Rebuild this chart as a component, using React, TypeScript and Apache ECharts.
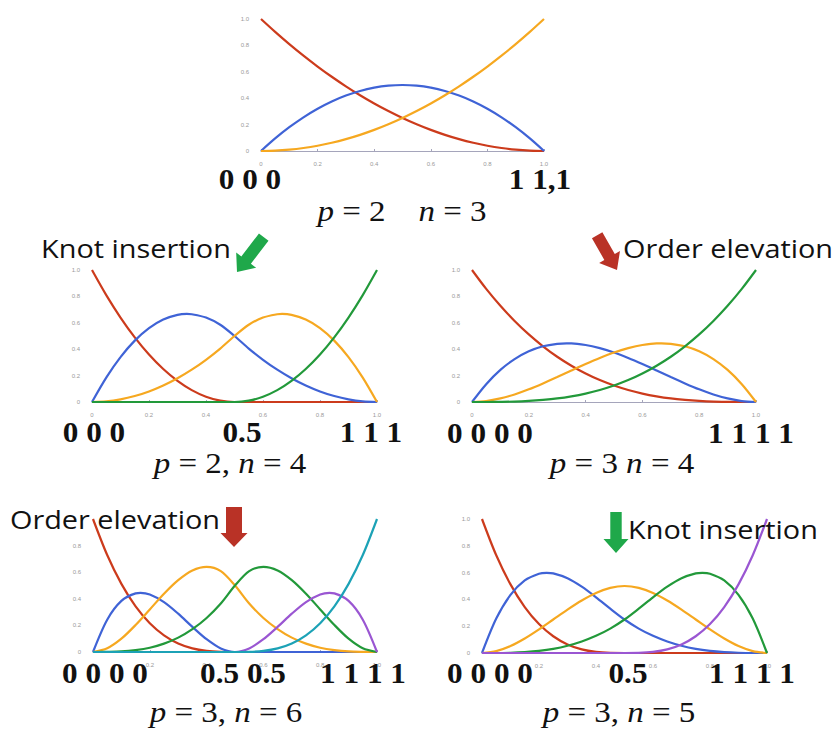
import React, { useEffect, useRef } from 'react';
import * as echarts from 'echarts';

// sample positions (parameter t)
const T = [0, 0.05, 0.1, 0.15, 0.2, 0.25, 0.3, 0.35, 0.4, 0.45, 0.5, 0.55, 0.6, 0.65, 0.7, 0.75, 0.8, 0.85, 0.9, 0.95, 1];

// Panel 1: p = 2, n = 3
const c1Red = [1, 0.9025, 0.81, 0.7225, 0.64, 0.5625, 0.49, 0.4225, 0.36, 0.3025, 0.25, 0.2025, 0.16, 0.1225, 0.09, 0.0625, 0.04, 0.0225, 0.01, 0.0025, 0];
const c1Blue = [0, 0.095, 0.18, 0.255, 0.32, 0.375, 0.42, 0.455, 0.48, 0.495, 0.5, 0.495, 0.48, 0.455, 0.42, 0.375, 0.32, 0.255, 0.18, 0.095, 0];
const c1Orange = [0, 0.0025, 0.01, 0.0225, 0.04, 0.0625, 0.09, 0.1225, 0.16, 0.2025, 0.25, 0.3025, 0.36, 0.4225, 0.49, 0.5625, 0.64, 0.7225, 0.81, 0.9025, 1];

// Panel 2: p = 2, n = 4
const c2Red = [1, 0.81, 0.64, 0.49, 0.36, 0.25, 0.16, 0.09, 0.04, 0.01, 0, 0, 0, 0, 0, 0, 0, 0, 0, 0, 0];
const c2Blue = [0, 0.185, 0.34, 0.465, 0.56, 0.625, 0.66, 0.665, 0.64, 0.585, 0.5, 0.405, 0.32, 0.245, 0.18, 0.125, 0.08, 0.045, 0.02, 0.005, 0];
const c2Orange = [0, 0.005, 0.02, 0.045, 0.08, 0.125, 0.18, 0.245, 0.32, 0.405, 0.5, 0.585, 0.64, 0.665, 0.66, 0.625, 0.56, 0.465, 0.34, 0.185, 0];
const c2Green = [0, 0, 0, 0, 0, 0, 0, 0, 0, 0, 0, 0.01, 0.04, 0.09, 0.16, 0.25, 0.36, 0.49, 0.64, 0.81, 1];
const c2BluePeak = [0.333, 0.667];
const c2OrangePeak = [0.667, 0.667];

// Panel 3: p = 3, n = 4
const c3Red = [1, 0.857, 0.729, 0.614, 0.512, 0.422, 0.343, 0.275, 0.216, 0.166, 0.125, 0.091, 0.064, 0.043, 0.027, 0.016, 0.008, 0.003, 0.001, 0, 0];
const c3Blue = [0, 0.135, 0.243, 0.325, 0.384, 0.422, 0.441, 0.444, 0.432, 0.408, 0.375, 0.334, 0.288, 0.239, 0.189, 0.141, 0.096, 0.057, 0.027, 0.007, 0];
const c3Orange = [0, 0.007, 0.027, 0.057, 0.096, 0.141, 0.189, 0.239, 0.288, 0.334, 0.375, 0.408, 0.432, 0.444, 0.441, 0.422, 0.384, 0.325, 0.243, 0.135, 0];
const c3Green = [0, 0, 0.001, 0.003, 0.008, 0.016, 0.027, 0.043, 0.064, 0.091, 0.125, 0.166, 0.216, 0.275, 0.343, 0.422, 0.512, 0.614, 0.729, 0.857, 1];
const c3BluePeak = [0.333, 0.444];
const c3OrangePeak = [0.667, 0.444];

// Panel 4: p = 3, n = 6
const c4Red = [1, 0.729, 0.512, 0.343, 0.216, 0.125, 0.064, 0.027, 0.008, 0.001, 0, 0, 0, 0, 0, 0, 0, 0, 0, 0, 0];
const c4Blue = [0, 0.243, 0.384, 0.441, 0.432, 0.375, 0.288, 0.189, 0.096, 0.027, 0, 0, 0, 0, 0, 0, 0, 0, 0, 0, 0];
const c4Orange = [0, 0.028, 0.1, 0.203, 0.32, 0.438, 0.54, 0.613, 0.64, 0.608, 0.5, 0.365, 0.256, 0.172, 0.108, 0.063, 0.032, 0.014, 0.004, 0.001, 0];
const c4Green = [0, 0.001, 0.004, 0.014, 0.032, 0.063, 0.108, 0.172, 0.256, 0.365, 0.5, 0.608, 0.64, 0.613, 0.54, 0.438, 0.32, 0.203, 0.1, 0.028, 0];
const c4Purple = [0, 0, 0, 0, 0, 0, 0, 0, 0, 0, 0, 0.027, 0.096, 0.189, 0.288, 0.375, 0.432, 0.441, 0.384, 0.243, 0];
const c4Cyan = [0, 0, 0, 0, 0, 0, 0, 0, 0, 0, 0, 0.001, 0.008, 0.027, 0.064, 0.125, 0.216, 0.343, 0.512, 0.729, 1];
const c4BluePeak = [0.167, 0.444];
const c4PurplePeak = [0.833, 0.444];

// Panel 5: p = 3, n = 5
const c5Red = [1, 0.729, 0.512, 0.343, 0.216, 0.125, 0.064, 0.027, 0.008, 0.001, 0, 0, 0, 0, 0, 0, 0, 0, 0, 0, 0];
const c5Blue = [0, 0.257, 0.434, 0.542, 0.592, 0.594, 0.558, 0.495, 0.416, 0.331, 0.25, 0.182, 0.128, 0.086, 0.054, 0.031, 0.016, 0.007, 0.002, 0, 0];
const c5Orange = [0, 0.014, 0.052, 0.108, 0.176, 0.25, 0.324, 0.392, 0.448, 0.486, 0.5, 0.486, 0.448, 0.392, 0.324, 0.25, 0.176, 0.108, 0.052, 0.014, 0];
const c5Green = [0, 0, 0.002, 0.007, 0.016, 0.031, 0.054, 0.086, 0.128, 0.182, 0.25, 0.331, 0.416, 0.495, 0.558, 0.594, 0.592, 0.542, 0.434, 0.257, 0];
const c5Purple = [0, 0, 0, 0, 0, 0, 0, 0, 0, 0, 0, 0.001, 0.008, 0.027, 0.064, 0.125, 0.216, 0.343, 0.512, 0.729, 1];
const c5BluePeak = [0.227, 0.598];
const c5GreenPeak = [0.773, 0.598];

// knot vector labels and captions
const knotLabels = [
  ['0 0 0', '1 1,1'],
  ['0 0 0', '0.5', '1 1 1'],
  ['0 0 0 0', '1 1 1 1'],
  ['0 0 0 0', '0.5 0.5', '1 1 1 1'],
  ['0 0 0 0', '0.5', '1 1 1 1'],
];
const captions = [
  '{i|p} = 2    {i|n} = 3',
  '{i|p} = 2, {i|n} = 4',
  '{i|p} = 3 {i|n} = 4',
  '{i|p} = 3, {i|n} = 6',
  '{i|p} = 3, {i|n} = 5',
];
const annotations = ['Knot insertion', 'Order elevation', 'Order elevation', 'Knot insertion'];

const COLORS: Record<string, string> = {
  red: '#cc3b1c',
  blue: '#3f63d6',
  orange: '#f6a820',
  green: '#22993a',
  purple: '#9a56d2',
  cyan: '#1ca2b6',
};

type Curve = [number[], string, number[]?];
const PANELS: { grid: any; hideTop: boolean; series: Curve[] }[] = [
  { grid: { left: 261, top: 19, width: 283, height: 132 }, hideTop: false,
    series: [[c1Red, 'red'], [c1Blue, 'blue'], [c1Orange, 'orange']] },
  { grid: { left: 92, top: 270, width: 285, height: 132 }, hideTop: false,
    series: [[c2Red, 'red'], [c2Blue, 'blue', c2BluePeak], [c2Orange, 'orange', c2OrangePeak], [c2Green, 'green']] },
  { grid: { left: 472, top: 270, width: 284, height: 132 }, hideTop: false,
    series: [[c3Red, 'red'], [c3Blue, 'blue', c3BluePeak], [c3Orange, 'orange', c3OrangePeak], [c3Green, 'green']] },
  { grid: { left: 93, top: 519, width: 284, height: 133 }, hideTop: true,
    series: [[c4Red, 'red'], [c4Blue, 'blue', c4BluePeak], [c4Orange, 'orange'], [c4Green, 'green'], [c4Purple, 'purple', c4PurplePeak], [c4Cyan, 'cyan']] },
  { grid: { left: 482, top: 519, width: 285, height: 134 }, hideTop: false,
    series: [[c5Red, 'red'], [c5Blue, 'blue', c5BluePeak], [c5Orange, 'orange'], [c5Green, 'green', c5GreenPeak], [c5Purple, 'purple']] },
];

// text placement (centers)
const KNOT_POS = [
  [[250, 179], [540, 179]],
  [[94, 432], [242, 432], [371, 432]],
  [[490, 433], [751, 433]],
  [[105, 673], [243, 673], [363, 673]],
  [[490, 673], [628, 673], [752, 673]],
];
const CAPTION_POS = [[402, 211], [230, 463], [622, 463], [226, 712], [619, 712]];
const ANNOT_POS = [[136, 248], [728, 248], [115, 519], [723, 529]];

function arrowPoints(tipX: number, tipY: number, dx: number, dy: number, len: number, sh: number, hh: number, hl: number) {
  const n = Math.hypot(dx, dy);
  const ux = dx / n, uy = dy / n;
  const vx = -uy, vy = ux;
  const bx = tipX - ux * hl, by = tipY - uy * hl;
  const tx = tipX - ux * len, ty = tipY - uy * len;
  return [
    [tx + vx * sh, ty + vy * sh],
    [bx + vx * sh, by + vy * sh],
    [bx + vx * hh, by + vy * hh],
    [tipX, tipY],
    [bx - vx * hh, by - vy * hh],
    [bx - vx * sh, by - vy * sh],
    [tx - vx * sh, ty - vy * sh],
  ];
}

const ARROWS = [
  { tip: [237, 272], dir: [-26, 34], len: 44, sh: 6, hh: 12.5, hl: 15, color: '#1fa84a' },
  { tip: [617, 270], dir: [20, 35], len: 40, sh: 6, hh: 12, hl: 15, color: '#b93226' },
  { tip: [234, 547], dir: [0, 1], len: 40, sh: 8, hh: 13.5, hl: 14, color: '#b93226' },
  { tip: [616, 553], dir: [0, 1], len: 41, sh: 5.7, hh: 12.5, hl: 14, color: '#1fa84a' },
];

export default function App() {
  const ref = useRef<HTMLDivElement>(null);
  useEffect(() => {
    if (!ref.current) return;
    const chart = echarts.init(ref.current, undefined, { renderer: 'svg' });

    const grids = PANELS.map((p) => ({ ...p.grid, containLabel: false, outerBoundsMode: 'none' }));
    const xAxes = PANELS.map((_, i) => ({
      type: 'value', gridIndex: i, min: 0, max: 1, interval: 0.2, offset: 6,
      axisLine: { show: true, lineStyle: { color: '#a5a5bb', width: 1 } },
      axisTick: { show: true, inside: true, length: 2, lineStyle: { color: '#a5a5bb' } },
      axisLabel: { fontSize: 6, color: '#9a9a9a', margin: 4, formatter: (v: number) => (v === 0 ? '0' : v.toFixed(1)) },
      splitLine: { show: false },
    }));
    const yAxes = PANELS.map((p, i) => ({
      type: 'value', gridIndex: i, min: 0, max: 1, interval: 0.2,
      axisLine: { show: false }, axisTick: { show: false },
      axisLabel: {
        fontSize: 6, color: '#9a9a9a', margin: 12,
        formatter: (v: number) => (v === 0 ? '0' : p.hideTop && v === 1 ? '' : v.toFixed(1)),
      },
      splitLine: { show: false },
    }));
    const series: any[] = [];
    PANELS.forEach((p, i) => {
      p.series.forEach(([arr, col, peak]) => {
        const data: number[][] = T.map((t, k) => [t, arr[k]]);
        if (peak) data.push([peak[0], peak[1]]);
        data.sort((a, b) => a[0] - b[0]);
        series.push({
          type: 'line', xAxisIndex: i, yAxisIndex: i, showSymbol: false, smooth: 0.3,
          data,
          lineStyle: { width: 2.2, color: COLORS[col] }, itemStyle: { color: COLORS[col] },
        });
      });
    });

    const graphic: any[] = [];
    knotLabels.forEach((labels, i) => {
      labels.forEach((txt, j) => {
        const [x, y] = KNOT_POS[i][j];
        graphic.push({
          type: 'text', z: 100, x, y, scaleX: 1.04,
          style: { text: txt, x: 0, y: 0, textAlign: 'center', textVerticalAlign: 'middle',
            fontFamily: 'Liberation Serif', fontWeight: 'bold', fontSize: 30, fill: '#111' },
        });
      });
    });
    captions.forEach((txt, i) => {
      const [x, y] = CAPTION_POS[i];
      graphic.push({
        type: 'text', z: 100, x, y, scaleX: 1.1,
        style: { text: txt, x: 0, y: 0, textAlign: 'center', textVerticalAlign: 'middle',
          fontFamily: 'Liberation Serif', fontSize: 30, fill: '#111',
          rich: { i: { fontFamily: 'Liberation Serif', fontStyle: 'italic', fontSize: 30, fill: '#111' } } },
      });
    });
    annotations.forEach((txt, i) => {
      const [x, y] = ANNOT_POS[i];
      graphic.push({
        type: 'text', z: 100, x, y, scaleX: 1.11,
        style: { text: txt, x: 0, y: 0, textAlign: 'center', textVerticalAlign: 'middle',
          fontFamily: 'Open Sans', fontSize: 26, fill: '#111' },
      });
    });
    ARROWS.forEach((a) => {
      graphic.push({
        type: 'polygon', z: 100,
        shape: { points: arrowPoints(a.tip[0], a.tip[1], a.dir[0], a.dir[1], a.len, a.sh, a.hh, a.hl) },
        style: { fill: a.color },
      });
    });

    chart.setOption({
      animation: false,
      backgroundColor: '#ffffff',
      grid: grids,
      xAxis: xAxes,
      yAxis: yAxes,
      series,
      graphic,
    } as any);
    return () => chart.dispose();
  }, []);
  return <div ref={ref} style={{ position: 'absolute', left: 0, top: 0, width: 835, height: 735 }} />;
}
